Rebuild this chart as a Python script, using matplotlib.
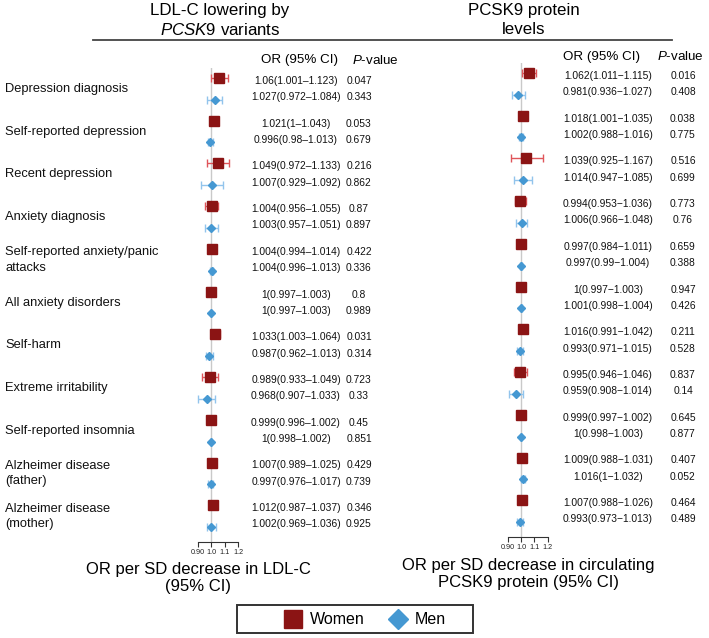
import numpy as np
import matplotlib
matplotlib.use("Agg")
import matplotlib.pyplot as plt
from matplotlib.transforms import blended_transform_factory
from matplotlib.lines import Line2D
from matplotlib.patches import Rectangle

plt.rcParams['font.family'] = ['Liberation Sans', 'DejaVu Sans']
plt.rcParams['mathtext.fontset'] = 'custom'
plt.rcParams['mathtext.rm'] = 'Liberation Sans'
plt.rcParams['mathtext.it'] = 'Liberation Sans:italic'

# ---------------- data ----------------
outcomes = ["Depression diagnosis", "Self-reported depression", "Recent depression",
            "Anxiety diagnosis", "Self-reported anxiety/panic\nattacks", "All anxiety disorders",
            "Self-harm", "Extreme irritability", "Self-reported insomnia",
            "Alzheimer disease\n(father)", "Alzheimer disease\n(mother)"]

# LDL-C lowering by PCSK9 variants
ldl_w_or = [1.06, 1.021, 1.049, 1.004, 1.004, 1, 1.033, 0.989, 0.999, 1.007, 1.012]
ldl_w_lo = [1.001, 1, 0.972, 0.956, 0.994, 0.997, 1.003, 0.933, 0.996, 0.989, 0.987]
ldl_w_hi = [1.123, 1.043, 1.133, 1.055, 1.014, 1.003, 1.064, 1.049, 1.002, 1.025, 1.037]
ldl_w_p = ["0.047", "0.053", "0.216", "0.87", "0.422", "0.8", "0.031", "0.723", "0.45", "0.429", "0.346"]
ldl_m_or = [1.027, 0.996, 1.007, 1.003, 1.004, 1, 0.987, 0.968, 1, 0.997, 1.002]
ldl_m_lo = [0.972, 0.98, 0.929, 0.957, 0.996, 0.997, 0.962, 0.907, 0.998, 0.976, 0.969]
ldl_m_hi = [1.084, 1.013, 1.092, 1.051, 1.013, 1.003, 1.013, 1.033, 1.002, 1.017, 1.036]
ldl_m_p = ["0.343", "0.679", "0.862", "0.897", "0.336", "0.989", "0.314", "0.33", "0.851", "0.739", "0.925"]

# PCSK9 protein levels
pcsk_w_or = [1.062, 1.018, 1.039, 0.994, 0.997, 1, 1.016, 0.995, 0.999, 1.009, 1.007]
pcsk_w_lo = [1.011, 1.001, 0.925, 0.953, 0.984, 0.997, 0.991, 0.946, 0.997, 0.988, 0.988]
pcsk_w_hi = [1.115, 1.035, 1.167, 1.036, 1.011, 1.003, 1.042, 1.046, 1.002, 1.031, 1.026]
pcsk_w_p = ["0.016", "0.038", "0.516", "0.773", "0.659", "0.947", "0.211", "0.837", "0.645", "0.407", "0.464"]
pcsk_m_or = [0.981, 1.002, 1.014, 1.006, 0.997, 1.001, 0.993, 0.959, 1, 1.016, 0.993]
pcsk_m_lo = [0.936, 0.988, 0.947, 0.966, 0.99, 0.998, 0.971, 0.908, 0.998, 1, 0.973]
pcsk_m_hi = [1.027, 1.016, 1.085, 1.048, 1.004, 1.004, 1.015, 1.014, 1.003, 1.032, 1.013]
pcsk_m_p = ["0.408", "0.775", "0.699", "0.76", "0.388", "0.426", "0.528", "0.14", "0.877", "0.052", "0.489"]

xticks = [0.9, 1.0, 1.1, 1.2]
xtick_labels = ["0.90", "1.0", "1.1", "1.2"]

# ---------------- layout helpers ----------------
W, H = 709, 638
fig = plt.figure(figsize=(W / 100, H / 100), dpi=100)


def fx(px):
    return px / W


def fy(py):
    return 1 - py / H


WOMEN = "#8b1414"
WOMEN_E = "#e0555a"
MEN = "#4598d2"
MEN_E = "#92c4ec"


def fmt(v):
    return f"{v:g}"


def panel(x0_px, ref_px, ppu, top_px, bot_px, w_or, w_lo, w_hi, w_p, m_or, m_lo, m_hi, m_p,
          or_x, p_x, dash):
    ax_w = 70
    ax = fig.add_axes([fx(x0_px), fy(bot_px), ax_w / W, (bot_px - top_px) / H])
    ax.set_xlim(1 - (ref_px - x0_px) / ppu, 1 + (x0_px + ax_w - ref_px) / ppu)
    ax.set_ylim(10.6, -0.5)
    n = len(w_or)
    rows = np.arange(n)
    yw = rows - 0.26
    ym = rows + 0.25
    w_or = np.array(w_or); w_lo = np.array(w_lo); w_hi = np.array(w_hi)
    m_or = np.array(m_or); m_lo = np.array(m_lo); m_hi = np.array(m_hi)
    ax.axvline(1.0, color="#c9c9c9", lw=1.0, zorder=0)
    ax.errorbar(w_or, yw, xerr=[w_or - w_lo, w_hi - w_or], fmt='none', ecolor=WOMEN_E,
                elinewidth=1.0, capsize=2.6, capthick=1.0, zorder=2, clip_on=False)
    ax.errorbar(m_or, ym, xerr=[m_or - m_lo, m_hi - m_or], fmt='none', ecolor=MEN_E,
                elinewidth=1.0, capsize=2.6, capthick=1.0, zorder=2, clip_on=False)
    ax.plot(w_or, yw, 's', color=WOMEN, ms=6.9, mec=WOMEN, zorder=3, clip_on=False)
    ax.plot(m_or, ym, 'D', color=MEN, ms=4.3, mec=MEN, zorder=3, clip_on=False)
    for s in ['top', 'right', 'left']:
        ax.spines[s].set_visible(False)
    ax.spines['bottom'].set_bounds(0.9, 1.2)
    ax.spines['bottom'].set_color('#333333')
    ax.spines['bottom'].set_linewidth(0.8)
    ax.set_yticks([])
    ax.set_xticks(xticks)
    ax.set_xticklabels(xtick_labels)
    ax.tick_params(axis='x', length=3.5, width=0.8, color='#333333', labelsize=5.2, pad=1.5,
                   labelcolor='#222222')
    ax.patch.set_visible(False)
    tr = blended_transform_factory(fig.transFigure, ax.transData)
    for i in range(n):
        ax.text(fx(or_x), i - 0.19,
                f"{fmt(w_or[i])}({fmt(w_lo[i])}{dash}{fmt(w_hi[i])})",
                transform=tr, ha='center', va='center', fontsize=7.4, color='#111111')
        ax.text(fx(or_x), i + 0.19,
                f"{fmt(m_or[i])}({fmt(m_lo[i])}{dash}{fmt(m_hi[i])})",
                transform=tr, ha='center', va='center', fontsize=7.4, color='#111111')
        ax.text(fx(p_x), i - 0.19, w_p[i], transform=tr, ha='center', va='center',
                fontsize=7.4, color='#111111')
        ax.text(fx(p_x), i + 0.19, m_p[i], transform=tr, ha='center', va='center',
                fontsize=7.4, color='#111111')
    return ax, tr


axL, trL = panel(190, 211, 135, 67.6, 542, ldl_w_or, ldl_w_lo, ldl_w_hi, ldl_w_p,
                 ldl_m_or, ldl_m_lo, ldl_m_hi, ldl_m_p, 296, 359, "\u2013")
axR, trR = panel(500, 521, 134, 62.6, 537, pcsk_w_or, pcsk_w_lo, pcsk_w_hi, pcsk_w_p,
                 pcsk_m_or, pcsk_m_lo, pcsk_m_hi, pcsk_m_p, 608, 683, "\u2212")

# row labels
for i, lab in enumerate(outcomes):
    axL.text(fx(5), i, lab, transform=trL, ha='left', va='center', fontsize=9.3,
             linespacing=1.4, color='#111111')

# titles
fig.text(fx(220), fy(11), "LDL-C lowering by", ha='center', va='center', fontsize=12.2)
fig.text(fx(220), fy(30), r"$\it{PCSK9}$ variants", ha='center', va='center', fontsize=12.2)
fig.text(fx(524), fy(10), "PCSK9 protein", ha='center', va='center', fontsize=12.2)
fig.text(fx(524), fy(30), "levels", ha='center', va='center', fontsize=12.2)
fig.add_artist(Line2D([fx(93), fx(672)], [fy(40), fy(40)], color='#444444', lw=1.3))

# column headers
fig.text(fx(300), fy(60), "OR (95% CI)", ha='center', va='center', fontsize=9.6)
fig.text(fx(375), fy(60), r"$\it{P}$-value", ha='center', va='center', fontsize=9.6)
fig.text(fx(602), fy(57), "OR (95% CI)", ha='center', va='center', fontsize=9.6)
fig.text(fx(680), fy(57), r"$\it{P}$-value", ha='center', va='center', fontsize=9.6)

# axis titles
fig.text(fx(198), fy(578), "OR per SD decrease in LDL-C\n(95% CI)", ha='center', va='center',
         fontsize=12, linespacing=1.2)
fig.text(fx(528), fy(574), "OR per SD decrease in circulating\nPCSK9 protein (95% CI)",
         ha='center', va='center', fontsize=12, linespacing=1.2)

# legend (box drawn in figure pixels)
fig.add_artist(Rectangle((fx(237), fy(633)), (473 - 237) / W, (633 - 605) / H,
                         transform=fig.transFigure, fill=False, edgecolor='#333333', lw=1.4))
fig.add_artist(Line2D([fx(293)], [fy(619)], ls='none', marker='s', ms=13.5, color=WOMEN))
fig.text(fx(310), fy(619), "Women", ha='left', va='center', fontsize=11.5)
fig.add_artist(Line2D([fx(398)], [fy(619)], ls='none', marker='D', ms=10.5, color=MEN))
fig.text(fx(415), fy(619), "Men", ha='left', va='center', fontsize=11.5)

fig.savefig("out.png", dpi=100)
